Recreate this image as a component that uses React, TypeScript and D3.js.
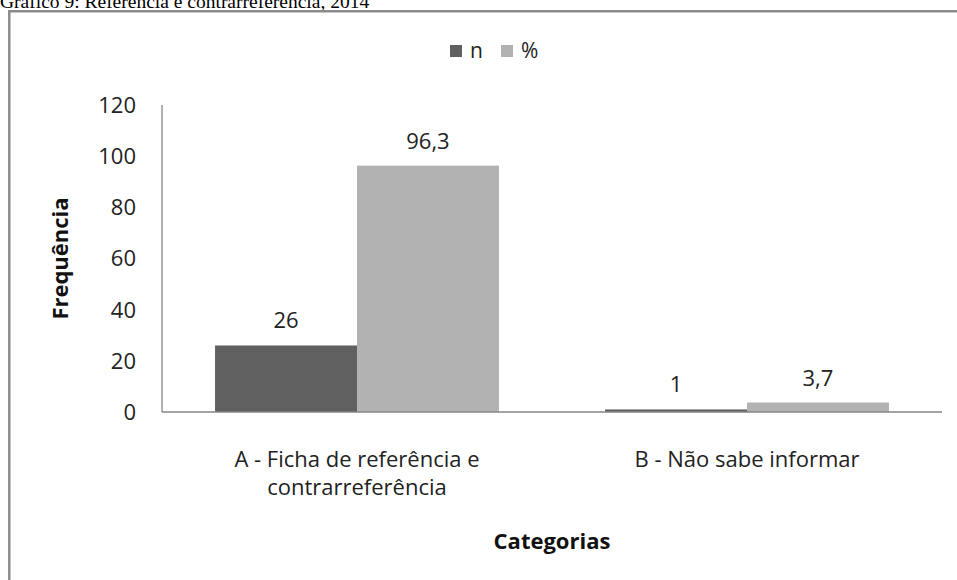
import React from 'react'
import * as d3 from 'd3'

const categories = ['A - Ficha de referência e|contrarreferência', 'B - Não sabe informar']
const series = ['n', '%']
const nValues = [26, 1]
const pctValues = [96.3, 3.7]
const valueLabels = [['26', '96,3'], ['1', '3,7']]
const yTicks = [0, 20, 40, 60, 80, 100, 120]
const colors = ['#606060', '#b2b2b2']

const W = 957
const H = 580
const FONT = '"Open Sans", Lato, sans-serif'

export default function App() {
  const x0 = d3.scaleBand<string>()
    .domain(categories)
    .range([162, 942])
    .paddingInner(0.272)
    .paddingOuter(0.136)
  const x1 = d3.scaleBand<string>()
    .domain(series)
    .range([0, x0.bandwidth()])
  const y = d3.scaleLinear().domain([0, 120]).range([412, 105])

  const rows = categories.map((c, i) => ({ cat: c, vals: [nValues[i], pctValues[i]], labels: valueLabels[i] }))

  return (
    <svg width={W} height={H} style={{ position: 'absolute', left: 0, top: 0, background: '#fff' }}>
      <text x={0} y={8} fontFamily='"Liberation Serif", "Times New Roman", serif' fontSize={19.5} fill="#000">
        Gráfico 9: Referência e contrarreferência, 2014
      </text>
      {/* moldura do gráfico */}
      <path d={`M9.3,${H + 5} V11.2 H${W + 5}`} fill="none" stroke="#8c8c8c" strokeWidth={2.5} />

      {/* legenda */}
      <g fontFamily={FONT} fontSize={21} fill="#222">
        {series.map((s, i) => (
          <g key={s} transform={`translate(${450 + i * 51},45)`}>
            <rect width={12} height={12} fill={colors[i]} />
            <text x={20} y={13}>{s}</text>
          </g>
        ))}
      </g>

      {/* eixo y */}
      <g fontFamily={FONT} fontSize={22} fill="#222">
        {yTicks.map(t => (
          <text key={t} x={136} y={y(t)} dy="0.36em" textAnchor="end">{t}</text>
        ))}
      </g>
      <line x1={162} x2={162} y1={y(120)} y2={y(0)} stroke="#868686" strokeWidth={1.3} />

      {/* barras */}
      {rows.map(r => (
        <g key={r.cat} transform={`translate(${x0(r.cat)},0)`}>
          {r.vals.map((v, i) => (
            <rect key={i} x={x1(series[i])} y={y(v)} width={x1.bandwidth()} height={y(0) - y(v)} fill={colors[i]} />
          ))}
          {r.vals.map((v, i) => (
            <text key={'l' + i} x={(x1(series[i]) || 0) + x1.bandwidth() / 2} y={y(v) - 17}
              textAnchor="middle" fontFamily={FONT} fontSize={22} fill="#222">{r.labels[i]}</text>
          ))}
        </g>
      ))}
      <line x1={162} x2={942} y1={y(0)} y2={y(0)} stroke="#868686" strokeWidth={1.3} />

      {/* rótulos das categorias */}
      {categories.map(c => (
        <text key={c} textAnchor="middle" fontFamily={FONT} fontSize={22} fill="#222">
          {c.split('|').map((line, j) => (
            <tspan key={j} x={(x0(c) || 0) + x0.bandwidth() / 2} y={467 + j * 28}>{line}</tspan>
          ))}
        </text>
      ))}

      {/* títulos dos eixos */}
      <text x={552} y={549} textAnchor="middle" fontFamily={FONT} fontSize={22} fontWeight="bold" fill="#111">Categorias</text>
      <text transform="translate(68,258.5) rotate(-90)" textAnchor="middle" fontFamily={FONT} fontSize={22} fontWeight="bold" fill="#111">Frequência</text>
    </svg>
  )
}
